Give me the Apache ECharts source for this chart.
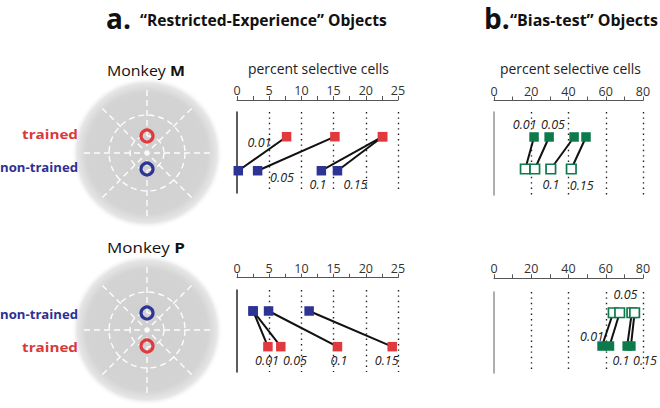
<!DOCTYPE html>
<html><head><meta charset="utf-8">
<script src="https://cdn.jsdelivr.net/npm/echarts@6/dist/echarts.min.js"></script>
<style>html,body{margin:0;padding:0;background:#fff}#c{width:660px;height:408px}</style>
</head><body><div id="c"></div>
<script>
// ---------------- DATA ----------------
const pValues = ['0.01', '0.05', '0.1', '0.15'];
const restrictedTicks = [0, 5, 10, 15, 20, 25];
const biasTicks = [0, 20, 40, 60, 80];
// a. "Restricted-Experience" objects, percent selective cells
const monkeyM_trained    = [7.7, 15.2, 22.6, 22.6];
const monkeyM_nonTrained = [0.2, 3.2, 13.1, 15.6];
const monkeyP_trained    = [4.8, 6.8, 15.6, 24.1];
const monkeyP_nonTrained = [2.5, 2.5, 4.9, 11.2];
// b. "Bias-test" objects, percent selective cells
const monkeyM_biasFilled = [21.5, 29.6, 43.0, 49.4];
const monkeyM_biasOpen   = [16.8, 21.9, 30.5, 41.5];
const monkeyP_biasFilled = [58.0, 62.0, 71.5, 73.5];
const monkeyP_biasOpen   = [64.0, 67.5, 74.0, 75.5];

// ---------------- STYLE / LAYOUT ----------------
const RED = '#e03a3e', BLUE = '#2d3494', GREEN = '#0d7a4b';
const TXT_RED = '#d8393c', TXT_BLUE = '#2e3192';
const FONT = 'Open Sans';

const mctx = document.createElement('canvas').getContext('2d');
function fitScale(text, font, w) { mctx.font = font; return w / mctx.measureText(text).width; }

const panels = [
  { grid: { left: 237, top: 112, width: 161, height: 81 }, axisY: 100, ticks: restrictedTicks, vcol: '#333',
    rows: [
      { y: 0.695, vals: monkeyM_trained, color: RED, hollow: false },
      { y: 0.275, vals: monkeyM_nonTrained, color: BLUE, hollow: false } ] },
  { grid: { left: 494, top: 112, width: 149, height: 83 }, axisY: 100.5, ticks: biasTicks, vcol: '#9a9a9a',
    rows: [
      { y: 0.699, vals: monkeyM_biasFilled, color: GREEN, hollow: false },
      { y: 0.313, vals: monkeyM_biasOpen, color: GREEN, hollow: true } ] },
  { grid: { left: 237, top: 290, width: 161, height: 82 }, axisY: 277.7, ticks: restrictedTicks, vcol: '#333',
    rows: [
      { y: 0.744, vals: monkeyP_nonTrained, color: BLUE, hollow: false },
      { y: 0.309, vals: monkeyP_trained, color: RED, hollow: false } ] },
  { grid: { left: 494, top: 292, width: 149, height: 81 }, axisY: 278.3, ticks: biasTicks, vcol: '#9a9a9a',
    rows: [
      { y: 0.744, vals: monkeyP_biasOpen, color: GREEN, hollow: true },
      { y: 0.333, vals: monkeyP_biasFilled, color: GREEN, hollow: false } ] }
];

// p-value label anchors (pixel layout), one list per panel, same order as pValues
const pLabelPos = [
  [[259.5, 142], [282, 177], [318, 184], [355.5, 184]],
  [[524.7, 124], [553, 124], [551, 184], [581.7, 185.7]],
  [[267, 360], [295, 360], [339, 360], [386.7, 360]],
  [[592, 336.7], [625.5, 294.3], [621, 360], [645, 360]]
];

const grids = [], xAxes = [], yAxes = [], series = [];
panels.forEach((p, i) => {
  grids.push(Object.assign({ containLabel: false }, p.grid));
  const t = p.ticks;
  xAxes.push({
    gridIndex: i, type: 'value', position: 'top', offset: p.grid.top - p.axisY,
    min: t[0], max: t[t.length - 1], interval: t[1] - t[0],
    axisLine: { show: true, onZero: false, lineStyle: { color: '#555', width: 1 } },
    axisTick: { show: true, length: 4, lineStyle: { color: '#555', width: 1 } },
    minorTick: { show: true, splitNumber: 2, length: 4, lineStyle: { color: '#555', width: 1 } },
    axisLabel: { margin: 3, fontSize: 12.5, color: '#333', fontFamily: FONT,
      formatter: v => t.indexOf(v) >= 0 ? String(v) : '' },
    splitLine: { show: true, showMinLine: false, lineStyle: { type: [1.4, 4], color: '#222', width: 1.4 } }
  });
  yAxes.push({
    gridIndex: i, type: 'value', min: 0, max: 1,
    axisLine: { show: true, onZero: false, lineStyle: { color: p.vcol, width: 1.6 } },
    axisTick: { show: false }, axisLabel: { show: false }, splitLine: { show: false }
  });
  const top = p.rows[0], bot = p.rows[1];
  series.push({
    type: 'lines', coordinateSystem: 'cartesian2d', xAxisIndex: i, yAxisIndex: i, z: 2,
    lineStyle: { color: '#111', width: 2, opacity: 1 }, silent: true,
    data: top.vals.map((v, k) => ({ coords: [[v, top.y], [bot.vals[k], bot.y]] }))
  });
  p.rows.forEach(r => {
    series.push({
      type: 'scatter', xAxisIndex: i, yAxisIndex: i, z: 3, symbol: 'rect', symbolSize: 9.5,
      itemStyle: r.hollow ? { color: '#fff', borderColor: r.color, borderWidth: 1.7, opacity: 1 }
                          : { color: r.color, opacity: 1 },
      data: r.vals.map(v => [v, r.y])
    });
  });
});

// ---------------- GRAPHIC (text + schematic) ----------------
const g = [];
function txt(text, x, y, opts) {
  const o = Object.assign({ size: 12, weight: 'normal', style: 'normal', fill: '#222', align: 'left', w: null }, opts || {});
  const font = `${o.style} ${o.weight} ${o.size}px "${FONT}"`;
  const s = o.w ? fitScale(text, font, o.w) : 1;
  g.push({ type: 'text', x, y, scaleX: s, z: 10,
    style: { text, fill: o.fill, fontSize: o.size, fontWeight: o.weight, fontStyle: o.style, fontFamily: FONT,
      align: o.align, verticalAlign: 'middle' } });
}
// titles
txt('a.', 106, 18, { size: 28, weight: 'bold', fill: '#111' });
txt('\u201CRestricted-Experience\u201D Objects', 140, 19.5, { size: 16, weight: 'bold', fill: '#111', w: 247 });
txt('b.', 484, 18, { size: 28, weight: 'bold', fill: '#111' });
txt('\u201CBias-test\u201D Objects', 510, 19.5, { size: 16, weight: 'bold', fill: '#111', w: 148 });
// axis titles
txt('percent selective cells', 248, 68, { size: 14, fill: '#222', w: 141 });
txt('percent selective cells', 500, 68, { size: 14, fill: '#222', w: 141 });
// p-value labels
pLabelPos.forEach(list => list.forEach((pos, k) =>
  txt(pValues[k], pos[0], pos[1], { size: 12.5, style: 'italic', align: 'center', fill: '#222' })));

function eye(cx, cy, label, topRing, botRing) {
  g.push({ type: 'circle', z: 1, shape: { cx, cy, r: 76 },
    style: { fill: new echarts.graphic.RadialGradient(0.5, 0.5, 0.5, [
      { offset: 0, color: '#cfcfcf' }, { offset: 0.8, color: '#d4d4d4' },
      { offset: 0.92, color: '#e6e6e6' }, { offset: 1, color: 'rgba(255,255,255,0)' }]) } });
  const dash = { stroke: '#fff', lineWidth: 1.4, lineDash: [6, 4], fill: 'none', opacity: 0.95 };
  [17, 38].forEach(r => g.push({ type: 'circle', z: 2, shape: { cx, cy, r }, style: Object.assign({}, dash) }));
  [0, 45, 90, 135].forEach(a => {
    const rad = a * Math.PI / 180, L = 63;
    g.push({ type: 'line', z: 2, shape: { x1: cx - L * Math.cos(rad), y1: cy - L * Math.sin(rad),
      x2: cx + L * Math.cos(rad), y2: cy + L * Math.sin(rad) }, style: Object.assign({}, dash) });
  });
  [[topRing, -17], [botRing, 16]].forEach(([c, dy]) =>
    g.push({ type: 'circle', z: 3, shape: { cx, cy: cy + dy, r: 6 }, style: { fill: 'none', stroke: c, lineWidth: 3.2 } }));
  // monkey label
  const f1 = `normal 15px "${FONT}"`, f2 = `bold 15px "${FONT}"`;
  mctx.font = f1; const w1 = mctx.measureText('Monkey ').width; mctx.font = f2; const w2 = mctx.measureText(label).width;
  g.push({ type: 'text', x: 107, y: cy - 83, scaleX: 78 / (w1 + w2), z: 10,
    style: { text: '{a|Monkey }{b|' + label + '}', verticalAlign: 'middle', align: 'left',
      rich: { a: { fontSize: 15, fontFamily: FONT, fill: '#111', color: '#111' },
              b: { fontSize: 15, fontFamily: FONT, fontWeight: 'bold', fill: '#111', color: '#111' } } } });
}
eye(147, 153, 'M', RED, BLUE);
eye(147, 330, 'P', BLUE, RED);
txt('trained', 78, 134, { size: 13, weight: 'bold', fill: TXT_RED, align: 'right', w: 56 });
txt('non-trained', 78, 167, { size: 13, weight: 'bold', fill: TXT_BLUE, align: 'right', w: 78 });
txt('non-trained', 78, 314, { size: 13, weight: 'bold', fill: TXT_BLUE, align: 'right', w: 78 });
txt('trained', 78, 347, { size: 13, weight: 'bold', fill: TXT_RED, align: 'right', w: 56 });

const chart = echarts.init(document.getElementById('c'), null, { renderer: 'svg', width: 660, height: 408 });
chart.setOption({
  animation: false, backgroundColor: '#fff',
  grid: grids, xAxis: xAxes, yAxis: yAxes, series, graphic: g
});
</script></body></html>
